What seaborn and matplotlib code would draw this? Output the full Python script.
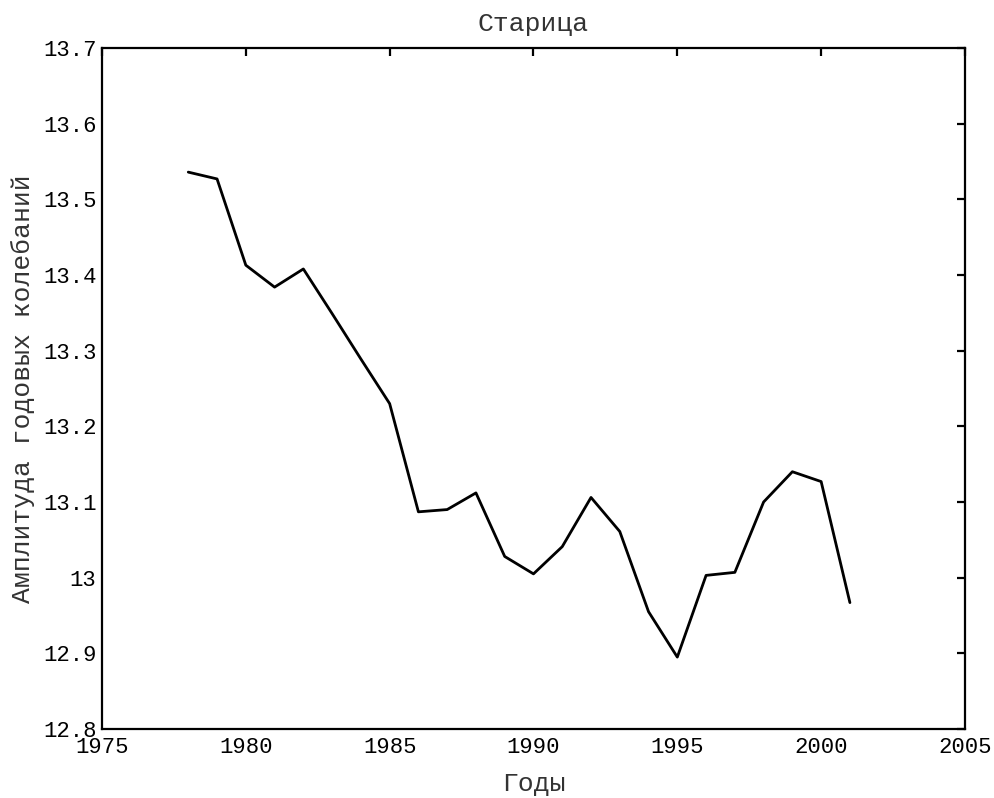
import pandas as pd
import matplotlib
matplotlib.use("Agg")
import matplotlib.pyplot as plt
import matplotlib.ticker as mticker
import seaborn as sns

# Значения (Старица)
years = [1978, 1979, 1980, 1981, 1982, 1983, 1984, 1985, 1986, 1987, 1988, 1989,
         1990, 1991, 1992, 1993, 1994, 1995, 1996, 1997, 1998, 1999, 2000, 2001]
amplitude = [13.536, 13.527, 13.413, 13.384, 13.408, 13.349, 13.289, 13.230,
             13.087, 13.090, 13.112, 13.028, 13.005, 13.041, 13.106, 13.061,
             12.955, 12.895, 13.003, 13.007, 13.100, 13.140, 13.127, 12.967]

x_ticks = [1975, 1980, 1985, 1990, 1995, 2000, 2005]
y_ticks = [12.8, 12.9, 13.0, 13.1, 13.2, 13.3, 13.4, 13.5, 13.6, 13.7]

df = pd.DataFrame({"year": years, "amp": amplitude})

sns.set_theme(style="white")
plt.rcParams["font.family"] = ["Liberation Mono", "DejaVu Sans Mono"]

fig = plt.figure(figsize=(9.94, 7.98), dpi=100)
ax = fig.add_axes([0.1026, 0.0865, 0.8682, 0.8533])

sns.lineplot(data=df, x="year", y="amp", color="black", linewidth=2.0, ax=ax)

ax.set_xlim(1975, 2005)
ax.set_ylim(12.8, 13.7)
ax.set_xticks(x_ticks)
ax.set_yticks(y_ticks)
ax.yaxis.set_major_formatter(mticker.FormatStrFormatter("%g"))

for side in ax.spines.values():
    side.set_visible(True)
    side.set_color("black")
    side.set_linewidth(1.6)

ax.tick_params(direction="in", length=6, width=1.6, top=True, right=True,
               labelsize=16, colors="black")
ax.tick_params(axis="x", pad=6)
ax.tick_params(axis="y", pad=4)

ax.set_title("Старица", fontsize=19, color="#333333", pad=12)
ax.set_xlabel("Годы", fontsize=19, color="#333333", labelpad=10)
ax.set_ylabel("Амплитуда годовых колебаний", fontsize=19, color="#333333", labelpad=6)

fig.savefig("out.png", dpi=100)
plt.close(fig)
